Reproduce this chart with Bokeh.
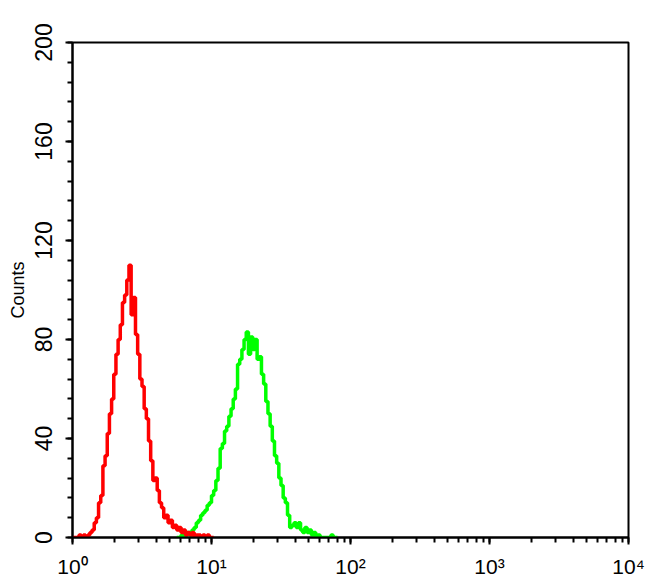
from bokeh.plotting import figure
from bokeh.models import LogTicker, SingleIntervalTicker, CustomJSTickFormatter, Range1d
from bokeh.embed import file_html
from bokeh.resources import INLINE

# ---- data: 256-channel histogram over 4 log decades (channel index -> counts)
channels_per_decade = 64
red_start = 0
red_counts = [0, 0, 0, 1, 0, 1, 0, 1, 2, 3, 6, 8, 14, 17, 29, 33, 42, 50, 56, 66,
              74, 80, 86, 95, 98, 104, 110, 90, 97, 82, 74, 64, 61, 52, 48, 39, 31, 23, 24, 19,
              14, 12, 8, 9, 6, 7, 4, 5, 3, 4, 2, 3, 1, 2, 1, 2, 0, 1, 1, 0,
              1, 0, 1, 0, 0]
green_start = 48
green_counts = [0, 0, 1, 0, 1, 2, 1, 3, 4, 6, 7, 9, 10, 11, 13, 14, 17, 19, 23, 28,
                36, 38, 43, 45, 49, 52, 56, 60, 70, 72, 76, 80, 83, 74, 81, 76, 80, 72, 73, 66,
                62, 55, 50, 45, 39, 33, 30, 24, 21, 16, 14, 9, 4, 5, 6, 4, 6, 3, 2, 4,
                2, 3, 1, 2, 0, 1, 0, 0, 0, 0, 0, 1, 0, 0]

x_tick_labels = ["10\u2070", "10\u00b9", "10\u00b2", "10\u00b3", "10\u2074"]
y_ticks_interval = 40
y_label = "Counts"


def to_xy(start, counts):
    xs = [10 ** ((start + i) / channels_per_decade) for i in range(len(counts) + 1)]
    ys = list(counts) + [counts[-1]]
    return xs, ys


rx, ry = to_xy(red_start, red_counts)
gx, gy = to_xy(green_start, green_counts)

p = figure(width=648, height=582, x_axis_type="log",
           x_range=Range1d(1, 10000), y_range=Range1d(0, 200),
           output_backend="svg", toolbar_location=None,
           min_border_left=72, min_border_right=20, min_border_top=42, min_border_bottom=45)

p.background_fill_color = "white"
p.border_fill_color = "white"
p.outline_line_color = "black"
p.outline_line_width = 2
p.grid.visible = False

p.step(gx, gy, mode="after", line_color="#00ff00", line_width=3.5)
p.step(rx, ry, mode="after", line_color="#ff0000", line_width=3.5)

# y axis
ya = p.yaxis[0]
ya.ticker = SingleIntervalTicker(interval=y_ticks_interval, num_minor_ticks=5)
ya.axis_label = y_label
ya.axis_label_text_font = "Liberation Sans"
ya.axis_label_text_font_style = "normal"
ya.axis_label_text_font_size = "18px"
ya.axis_label_text_color = "black"
ya.axis_label_standoff = 4
ya.major_label_orientation = "vertical"
ya.major_label_text_font = "Liberation Sans"
ya.major_label_text_font_size = "23px"
ya.major_label_standoff = 14

xa = p.xaxis[0]
xa.ticker = LogTicker(num_minor_ticks=10)
xa.formatter = CustomJSTickFormatter(
    args=dict(labels=x_tick_labels),
    code="const k = Math.round(Math.log10(tick)); return labels[k];")
xa.major_label_text_font = "Liberation Sans"
xa.major_label_text_font_size = "21px"
xa.major_label_standoff = 10

for ax in (ya, xa):
    ax.axis_line_width = 2
    ax.axis_line_color = "black"
    ax.major_tick_line_width = 2
    ax.minor_tick_line_width = 2
    ax.major_tick_in = 0
    ax.minor_tick_in = 0
    ax.major_tick_out = 7
    ax.minor_tick_out = 5
    ax.major_label_text_color = "black"

open("out.html", "w").write(file_html(p, INLINE))
